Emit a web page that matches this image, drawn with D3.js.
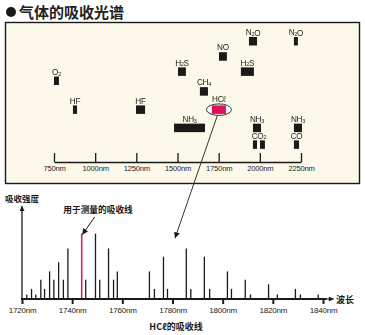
<!DOCTYPE html>
<html><head><meta charset="utf-8">
<script src="https://cdn.jsdelivr.net/npm/d3@7"></script>
<style>
html,body{margin:0;padding:0;background:#fff;}
svg{display:block;}
</style></head>
<body>
<script>
// ---- Data ----
const title = "气体的吸收光谱";
const topTicks = [750, 1000, 1250, 1500, 1750, 2000, 2250];
// gas absorption bands (nm) : label, segments, row level
const gasLabels = ["O₂", "HF", "HF", "H₂S", "CH₄", "NH₃", "HCℓ", "NO", "H₂S", "N₂O", "N₂O", "NH₃", "NH₃", "CO₂", "CO"];
const gasBands = [
  [[750, 780]],
  [[865, 890]],
  [[1248, 1303]],
  [[1503, 1551]],
  [[1636, 1685]],
  [[1479, 1667]],
  [[1709, 1794]],
  [[1752, 1800]],
  [[1885, 1964]],
  [[1934, 1983]],
  [[2207, 2231]],
  [[1958, 2007]],
  [[2207, 2256]],
  [[1958, 1983], [2001, 2031]],
  [[2207, 2238]]
];
const gasRows = [2.6, 4.5, 4.5, 2, 3.3, 5.7, 4.5, 1, 2, 0, 0, 5.7, 5.7, 6.8, 6.8];
const highlightGas = "HCℓ";

const bottomTicks = [1720, 1740, 1760, 1780, 1800, 1820, 1840];
const lineNm = [1721.9, 1723.8, 1725.5, 1727.5, 1729.0, 1731.0, 1732.7, 1734.6, 1736.5, 1738.3,
  1743.8, 1745.4, 1749.3, 1751.0, 1754.5, 1756.5, 1758.0, 1770.8, 1772.8, 1776.4, 1778.0,
  1785.5, 1787.3, 1792.7, 1794.8, 1801.9, 1803.5, 1809.0, 1811.1, 1818.3, 1821.8, 1829.0, 1831.0, 1838.1];
const lineIntensity = [5, 11, 5, 21, 11, 30, 21, 40, 21, 55,
  71, 21, 71, 21, 55, 21, 30, 30, 11, 46, 11,
  55, 11, 46, 11, 30, 11, 21, 5, 16, 5, 11, 5, 5];
const measuredLine = 1743.8;
const pointerTarget = [1781, 66];

const yLabel = "吸收强度";
const xLabel = "波长";
const measureLabel = "用于测量的吸收线";
const bottomCaption = "HCℓ的吸收线";

// ---- Drawing ----
const W = 365, H = 335;
const latin = "'Liberation Sans', Arial, sans-serif";
const cjk = "'Noto Sans CJK SC', 'Noto Sans', sans-serif";
const ink = "#1a1a1a";
const red = "#e0105a";

const svg = d3.select("body").append("svg").attr("width", W).attr("height", H);
const defs = svg.append("defs");
defs.append("filter").attr("id", "gray").attr("x", 0).attr("y", 0).attr("width", 1).attr("height", 1)
  .append("feOffset").attr("dx", 0).attr("dy", 0);
defs.append("marker").attr("id", "arr").attr("viewBox", "0 0 10 10")
  .attr("refX", 10).attr("refY", 5).attr("markerWidth", 8).attr("markerHeight", 6)
  .attr("markerUnits", "userSpaceOnUse").attr("orient", "auto")
  .append("path").attr("d", "M0,0L10,5L0,10z").attr("fill", ink);
defs.append("marker").attr("id", "arrS").attr("viewBox", "0 0 10 10")
  .attr("refX", 10).attr("refY", 5).attr("markerWidth", 7).attr("markerHeight", 5)
  .attr("markerUnits", "userSpaceOnUse").attr("orient", "auto")
  .append("path").attr("d", "M0,0L10,5L0,10z").attr("fill", ink);

// Title
svg.append("circle").attr("cx", 11).attr("cy", 12).attr("r", 5).attr("fill", ink);
svg.append("text").attr("x", 19).attr("y", 18).attr("font-family", cjk).attr("font-size", 15)
  .attr("font-weight", 700).attr("fill", "#222").text(title);

// Top panel
svg.append("rect").attr("x", 5.5).attr("y", 22.5).attr("width", 354).attr("height", 161)
  .attr("fill", "#fdf9ea").attr("stroke", ink).attr("stroke-width", 1.4);

const xTop = d3.scaleLinear().domain([750, 2250]).range([54, 301]);
const yTop = d3.scaleLinear().domain([0, 7]).range([37, 143.4]);
const barH = 8.5;

const topAxis = svg.append("g").attr("transform", "translate(0,162)")
  .call(d3.axisBottom(xTop).tickValues(topTicks).tickSizeInner(-9).tickSizeOuter(0)
    .tickPadding(4).tickFormat(d => d + "nm"));
topAxis.select(".domain").attr("stroke", ink).attr("stroke-width", 1.3);
topAxis.selectAll(".tick line").attr("stroke", ink).attr("stroke-width", 1.3);
topAxis.selectAll(".tick text").attr("font-family", latin).attr("font-size", 7.6).attr("fill", ink)
  .attr("letter-spacing", -0.2);

function addChem(sel, label) {
  const parts = label.match(/[₀-₉]+|[^₀-₉]+/g);
  parts.forEach(p => {
    if (/[₀-₉]/.test(p)) {
      const digit = String.fromCharCode(p.charCodeAt(0) - 0x2080 + 48);
      sel.append("tspan").attr("font-size", 5.5).attr("dy", 0.8).text(digit);
      sel.append("tspan").attr("dy", -0.8).text("");
    } else {
      sel.append("tspan").text(p);
    }
  });
}

const labelLayer = [];
gasLabels.forEach((lab, i) => {
  const segs = gasBands[i];
  const top = yTop(gasRows[i]);
  const x0 = xTop(d3.min(segs, s => s[0])), x1 = xTop(d3.max(segs, s => s[1]));
  const cx = (x0 + x1) / 2;
  const hl = lab === highlightGas;
  if (hl) {
    svg.append("ellipse").attr("cx", cx).attr("cy", top + barH / 2)
      .attr("rx", (x1 - x0) / 2 + 5.5).attr("ry", barH / 2 + 1.5)
      .attr("fill", "#ffffff").attr("stroke", "#333").attr("stroke-width", 1);
  }
  segs.forEach(s => {
    svg.append("rect").attr("x", xTop(s[0])).attr("y", top)
      .attr("width", xTop(s[1]) - xTop(s[0])).attr("height", barH)
      .attr("fill", hl ? red : ink);
  });
  labelLayer.push({lab, cx, y: top - (hl ? 3 : 1.8)});
});
const lg = svg.append("g").attr("filter", "url(#gray)");
labelLayer.forEach(d => {
  const t = lg.append("text").attr("x", d.cx).attr("y", d.y)
    .attr("text-anchor", "middle").attr("font-family", latin).attr("font-size", 8.2)
    .attr("fill", "#222").attr("letter-spacing", -0.3);
  addChem(t, d.lab);
});

// Bottom chart
const xB = d3.scaleLinear().domain([1720, 1840]).range([22, 323]);
const yB = d3.scaleLinear().domain([0, 100]).range([299, 207]);

// Y axis with arrow
svg.append("line").attr("x1", xB(1720)).attr("x2", xB(1720)).attr("y1", yB(0)).attr("y2", yB(101))
  .attr("stroke", ink).attr("stroke-width", 1.3).attr("marker-end", "url(#arrS)");
svg.append("text").attr("x", 5).attr("y", 201.5).attr("font-family", cjk).attr("font-size", 8.5)
  .attr("font-weight", 700).attr("fill", ink).text(yLabel);

// spectrum lines
lineNm.forEach((nm, i) => {
  const isM = nm === measuredLine;
  svg.append("line").attr("x1", xB(nm)).attr("x2", xB(nm))
    .attr("y1", yB(0)).attr("y2", yB(lineIntensity[i]))
    .attr("stroke", isM ? red : ink).attr("stroke-width", isM ? 1.5 : 1.3);
});

// X axis
const botAxis = svg.append("g").attr("transform", "translate(0," + yB(0) + ")")
  .call(d3.axisBottom(xB).tickValues(bottomTicks).tickSizeInner(5).tickSizeOuter(0)
    .tickPadding(3).tickFormat(d => d + "nm"));
botAxis.select(".domain").remove();
botAxis.selectAll(".tick line").attr("stroke", ink).attr("stroke-width", 2);
botAxis.selectAll(".tick text").attr("font-family", latin).attr("font-size", 8).attr("fill", ink)
  .attr("letter-spacing", -0.2);
svg.append("line").attr("x1", xB(1720) - 1).attr("x2", xB(1841.5)).attr("y1", yB(0)).attr("y2", yB(0))
  .attr("stroke", ink).attr("stroke-width", 2.2);
svg.append("line").attr("x1", xB(1841.5)).attr("x2", xB(1844.3)).attr("y1", yB(0)).attr("y2", yB(0))
  .attr("stroke", ink).attr("stroke-width", 1).attr("marker-end", "url(#arrS)");
svg.append("text").attr("x", 336).attr("y", 303).attr("font-family", cjk).attr("font-size", 9)
  .attr("font-weight", 700).attr("fill", ink).text(xLabel);

// caption
svg.append("text").attr("x", 176).attr("y", 330).attr("text-anchor", "middle")
  .attr("font-family", cjk).attr("font-size", 9).attr("font-weight", 700).attr("fill", ink)
  .text(bottomCaption);

// measurement annotation
svg.append("text").attr("x", 98).attr("y", 213).attr("text-anchor", "middle")
  .attr("font-family", cjk).attr("font-size", 8.7).attr("font-weight", 700).attr("fill", ink)
  .text(measureLabel);
const mi = lineNm.indexOf(measuredLine);
svg.append("line").attr("x1", xB(measuredLine) + 13).attr("y1", 217)
  .attr("x2", xB(measuredLine) + 0.5).attr("y2", yB(lineIntensity[mi]) + 1)
  .attr("stroke", ink).attr("stroke-width", 1).attr("marker-end", "url(#arr)");

// pointer from HCl ellipse to spectrum
const hi = gasLabels.indexOf(highlightGas);
const hs = gasBands[hi];
const hcx = (xTop(hs[0][0]) + xTop(hs[0][1])) / 2;
svg.append("line").attr("x1", hcx - 1.5).attr("y1", yTop(gasRows[hi]) + barH + 1.5)
  .attr("x2", xB(pointerTarget[0])).attr("y2", yB(pointerTarget[1]))
  .attr("stroke", "#333").attr("stroke-width", 1).attr("marker-end", "url(#arr)");
</script>
</body></html>
